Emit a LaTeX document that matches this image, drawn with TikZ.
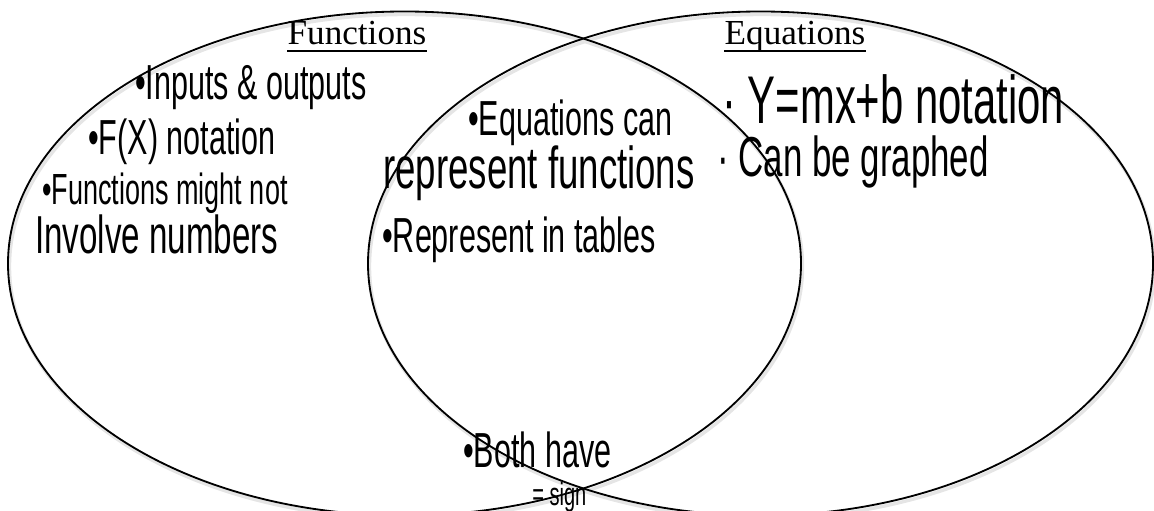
\documentclass[tikz,border=0pt]{standalone}
\usepackage{fontspec}
\setmainfont{Liberation Serif}
\newfontfamily\handfont[FakeStretch=0.62]{Liberation Sans}
\usetikzlibrary{positioning}

\tikzset{
  setline/.style={line width=1.3pt},
  setshadow/.style={line width=2.4pt, black!10},
  settitle/.style={font=\fontsize{25pt}{25pt}\selectfont, anchor=base, inner sep=0pt},
  titlerule/.style={line width=0.8pt},
  hand/.style={font=\handfont\fontsize{#1}{#1}\selectfont, anchor=base west, inner sep=0pt, text depth=0pt},
  hand/.default=30pt
}

\begin{document}
\begin{tikzpicture}[x=0.025cm, y=-0.025cm]
  \useasboundingbox (0,0) rectangle (1154,511);
  \clip (0,0) rectangle (1154,511);

  % the two sets
  \draw[setshadow] (406,266.5) ellipse [x radius=396.5, y radius=252];
  \draw[setshadow] (762,266.5) ellipse [x radius=392.5, y radius=252];
  \draw[setline] (404.5,263.5) ellipse [x radius=396.5, y radius=252];
  \draw[setline] (760.5,263.5) ellipse [x radius=392.5, y radius=252];

  % titles
  \node[settitle] (functitle) at (357,45) {Functions};
  \node[settitle] (eqtitle) at (795,45) {Equations};
  \draw[titlerule] ([yshift=-4.3pt]functitle.base west) -- ([yshift=-4.3pt]functitle.base east);
  \draw[titlerule] ([yshift=-4.3pt]eqtitle.base west) -- ([yshift=-4.3pt]eqtitle.base east);

  % functions only
  \node[hand=35pt] (inout) at (135,100) {\textbullet Inputs \& outputs};
  \node[hand=35pt] (fxnote) at (88,155) {\textbullet F(X) notation};
  \node[hand=31pt] (mightnot) at (42,205) {\textbullet Functions might not};
  \node[hand=38pt] (involve) at (35,253) {Involve numbers};

  % both
  \node[hand=35pt] (eqcan) at (468,136) {\textbullet Equations can};
  \node[hand=42pt] (reprfun) at (383,189) {represent functions};
  \node[hand=35pt] (reprtab) at (382,252) {\textbullet Represent in tables};
  \node[hand=35pt] (bothhave) at (463,467) {\textbullet Both have};
  \node[hand=23pt] (eqsign) at (532,505) {= sign};

  % equations only
  \node[hand=48pt] (slope) at (722,124) {· Y=mx+b notation};
  \node[hand=40pt] (graphed) at (717,177) {· Can be graphed};
\end{tikzpicture}
\end{document}
